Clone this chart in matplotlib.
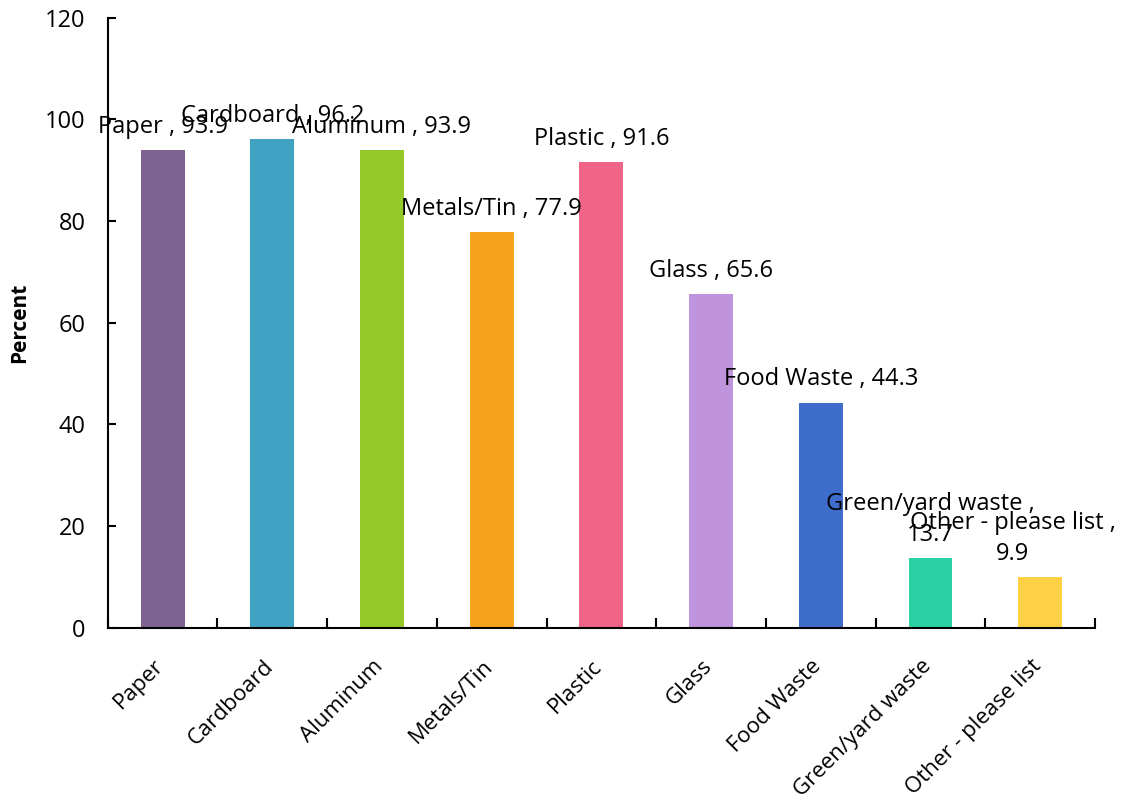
import numpy as np
import matplotlib.pyplot as plt
import matplotlib.transforms as mtransforms

plt.rcParams["font.family"] = ["Open Sans", "DejaVu Sans"]

categories = ["Paper", "Cardboard", "Aluminum", "Metals/Tin", "Plastic",
              "Glass", "Food Waste", "Green/yard waste", "Other - please list"]
values = [93.9, 96.2, 93.9, 77.9, 91.6, 65.6, 44.3, 13.7, 9.9]
bar_labels = ["Paper , 93.9", "Cardboard , 96.2", "Aluminum , 93.9",
              "Metals/Tin , 77.9", "Plastic , 91.6", "Glass , 65.6",
              "Food Waste , 44.3", "Green/yard waste ,\n13.7",
              "Other - please list ,\n9.9"]
colors = ["#7E6290", "#41A3C4", "#95C829", "#F5A31D", "#F06487",
          "#C094DC", "#3F6DCC", "#2DD1A6", "#FDD146"]

fig = plt.figure(figsize=(11.22, 8.09), dpi=100)
ax = fig.add_axes([0.096, 0.224, 0.880, 0.754])

x = np.arange(len(categories))
ax.bar(x, values, width=0.4, color=colors)

# last label is nudged left so it stays inside the figure
dx = [0] * (len(categories) - 1) + [-20]
for xi, v, lab, d in zip(x, values, bar_labels, dx):
    ax.annotate(lab, (xi, v), xytext=(d, 8), textcoords="offset points",
                ha="center", va="bottom", fontsize=17, linespacing=1.4)

ax.set_xlim(-0.5, len(categories) - 0.5)
ax.set_ylim(0, 120)
ax.set_yticks(range(0, 121, 20))
ax.tick_params(axis="y", direction="in", length=6, width=1.5, labelsize=17, pad=16)

ax.set_xticks(x)
ax.set_xticklabels(categories, rotation=45, ha="right", va="top",
                   rotation_mode="anchor", fontsize=16)
ax.tick_params(axis="x", which="major", length=0, pad=20)
shift = mtransforms.ScaledTranslation(-7 / 72, 0, fig.dpi_scale_trans)
for t in ax.get_xticklabels():
    t.set_transform(t.get_transform() + shift)
ax.set_xticks(np.arange(-0.5, len(categories)), minor=True)
ax.tick_params(axis="x", which="minor", direction="in", length=7, width=1.5)

ax.spines["top"].set_visible(False)
ax.spines["right"].set_visible(False)
ax.spines["left"].set_linewidth(1.5)
ax.spines["bottom"].set_linewidth(1.5)

ax.set_ylabel("Percent", fontsize=15, fontweight="bold")
ax.yaxis.set_label_coords(-0.079, 0.5)

plt.savefig("out.png", dpi=100)
